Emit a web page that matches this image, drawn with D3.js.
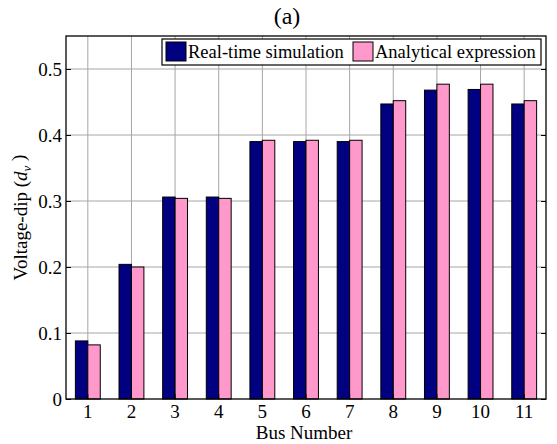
<!DOCTYPE html>
<html>
<head>
<meta charset="utf-8">
<script src="https://cdn.jsdelivr.net/npm/d3@7"></script>
<style>
  body { margin: 0; background: #fff; }
</style>
</head>
<body>
<div class="canvas"></div>
<script>
const buses = ['1', '2', '3', '4', '5', '6', '7', '8', '9', '10', '11'];
const realTime = [0.088, 0.204, 0.306, 0.306, 0.390, 0.390, 0.390, 0.447, 0.468, 0.469, 0.447];
const analytical = [0.082, 0.200, 0.304, 0.304, 0.392, 0.392, 0.392, 0.452, 0.477, 0.477, 0.452];
const seriesNames = ['Real-time simulation', 'Analytical expression'];
const yTicks = [0, 0.1, 0.2, 0.3, 0.4, 0.5];

const colours = ['#000080', '#ff99cc'];
const dims = { width: 557, height: 444 };
const margin = { top: 36, right: 11, bottom: 45, left: 66 };
const innerW = dims.width - margin.left - margin.right;
const innerH = dims.height - margin.top - margin.bottom;

const svg = d3.select('.canvas')
    .append('svg')
    .attr('width', dims.width)
    .attr('height', dims.height);

const graph = svg.append('g')
    .attr('transform', `translate(${margin.left}, ${margin.top})`);

const x = d3.scaleBand()
    .domain(buses)
    .range([0, innerW])
    .paddingInner(0.43)
    .paddingOuter(0.215);

const x1 = d3.scaleBand()
    .domain(seriesNames)
    .range([0, x.bandwidth()]);

const y = d3.scaleLinear()
    .domain([0, 0.55])
    .range([innerH, 0]);

const centre = d => x(d) + x.bandwidth() / 2;

// grid
graph.append('g')
    .selectAll('line')
    .data(buses)
    .enter().append('line')
    .attr('x1', centre).attr('x2', centre)
    .attr('y1', 0).attr('y2', innerH)
    .attr('stroke', '#a6a6a6').attr('stroke-width', 1);

graph.append('g')
    .selectAll('line')
    .data(yTicks.slice(1))
    .enter().append('line')
    .attr('x1', 0).attr('x2', innerW)
    .attr('y1', d => y(d)).attr('y2', d => y(d))
    .attr('stroke', '#a6a6a6').attr('stroke-width', 1);

// bars
const rows = buses.map((b, i) => ({ bus: b, values: [realTime[i], analytical[i]] }));

const groups = graph.selectAll('g.bus')
    .data(rows)
    .enter().append('g')
    .attr('class', 'bus')
    .attr('transform', d => `translate(${x(d.bus)}, 0)`);

groups.selectAll('rect')
    .data(d => d.values.map((v, j) => ({ name: seriesNames[j], value: v, j })))
    .enter().append('rect')
    .attr('x', d => x1(d.name))
    .attr('y', d => y(d.value))
    .attr('width', x1.bandwidth())
    .attr('height', d => innerH - y(d.value))
    .attr('fill', d => colours[d.j])
    .attr('stroke', '#000')
    .attr('stroke-width', 1);

// axes box
graph.append('rect')
    .attr('width', innerW).attr('height', innerH)
    .attr('fill', 'none').attr('stroke', '#000').attr('stroke-width', 1.3);

const yAxis = d3.axisLeft(y)
    .tickValues(yTicks)
    .tickFormat(d => d === 0 ? '0' : d3.format('.1f')(d))
    .tickSize(-5)
    .tickPadding(4);

const yG = graph.append('g').call(yAxis);
yG.select('.domain').remove();
yG.selectAll('text').attr('font-size', 19).attr('fill', '#000');

const yR = graph.append('g')
    .attr('transform', `translate(${innerW}, 0)`)
    .call(d3.axisRight(y).tickValues(yTicks).tickSize(-5).tickFormat(''));
yR.select('.domain').remove();

const xAxis = d3.axisBottom(x)
    .tickSize(-5)
    .tickPadding(6);

const xG = graph.append('g')
    .attr('transform', `translate(0, ${innerH})`)
    .call(xAxis);
xG.select('.domain').remove();
xG.selectAll('text').attr('font-size', 19).attr('fill', '#000');

// labels
svg.append('text')
    .attr('x', 287).attr('y', 23.5)
    .attr('text-anchor', 'middle')
    .attr('font-size', 24)
    .text('(a)');

svg.append('text')
    .attr('x', 304).attr('y', 439)
    .attr('text-anchor', 'middle')
    .attr('font-size', 19)
    .text('Bus Number');

const yLabel = svg.append('text')
    .attr('transform', `translate(27, ${margin.top + innerH / 2}) rotate(-90)`)
    .attr('text-anchor', 'middle')
    .attr('font-size', 19);
yLabel.append('tspan').text('Voltage-dip (');
yLabel.append('tspan').attr('font-style', 'italic').text('d');
yLabel.append('tspan').attr('font-style', 'italic').attr('font-size', 13).attr('dy', '0.3em').text('v');
yLabel.append('tspan').attr('dy', '-0.3em').text(' )');

// legend
const legendGroup = svg.append('g')
    .attr('transform', 'translate(162, 39)');

legendGroup.append('rect')
    .attr('width', 379).attr('height', 26)
    .attr('fill', '#fff').attr('stroke', '#000').attr('stroke-width', 1.2);

const legendX = [4, 191];
const items = legendGroup.selectAll('g.item')
    .data(seriesNames)
    .enter().append('g')
    .attr('class', 'item')
    .attr('transform', (d, i) => `translate(${legendX[i]}, 3)`);

items.append('rect')
    .attr('width', 20).attr('height', 19)
    .attr('fill', (d, i) => colours[i])
    .attr('stroke', '#000').attr('stroke-width', 1);

items.append('text')
    .attr('x', 22).attr('y', 16)
    .attr('font-size', 18.5)
    .text(d => d);

// serif everywhere
svg.selectAll('text').style('font-family', '"Liberation Serif", serif');
</script>
</body>
</html>
